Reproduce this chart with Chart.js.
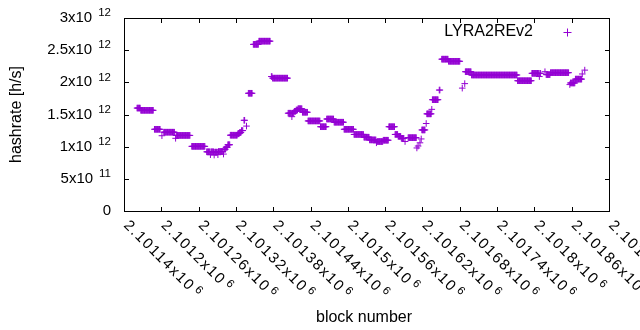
<!DOCTYPE html>
<html><head><meta charset="utf-8">
<script src="https://cdn.jsdelivr.net/npm/chart.js@4"></script>
<style>html,body{margin:0;padding:0;background:#fff}#c{display:block}</style>
</head><body>
<canvas id="c" width="640" height="330"></canvas>
<script>
// ---- data (hashrate in units of 10^12 h/s, constant over runs of consecutive blocks) ----
const seriesName = 'LYRA2REv2';
const runStart = [2101161,2101167,2101189,2101201,2101204,2101223,2101224,2101249,2101273,2101279,2101280,2101285,2101286,2101291,2101292,2101300,2101301,2101304,2101307,2101311,2101323,2101326,2101329,2101333,2101337,2101340,2101348,2101357,2101377,2101379,2101404,2101410,2101411,2101414,2101417,2101420,2101427,2101436,2101456,2101466,2101478,2101494,2101510,2101526,2101535,2101546,2101547,2101557,2101566,2101576,2101581,2101586,2101592,2101597,2101611,2101613,2101616,2101618,2101619,2101626,2101627,2101635,2101636,2101647,2101651,2101662,2101684,2101688,2101689,2101699,2101773,2101796,2101808,2101809,2101817,2101819,2101826,2101857,2101858,2101866,2101877,2101881];
const runEnd   = [2101166,2101187,2101198,2101201,2101221,2101223,2101246,2101270,2101278,2101279,2101284,2101285,2101290,2101291,2101299,2101300,2101303,2101306,2101310,2101322,2101325,2101328,2101331,2101334,2101337,2101346,2101356,2101375,2101378,2101403,2101409,2101410,2101413,2101416,2101419,2101426,2101435,2101455,2101465,2101477,2101493,2101509,2101525,2101534,2101545,2101546,2101556,2101565,2101575,2101580,2101585,2101590,2101592,2101610,2101611,2101613,2101616,2101618,2101624,2101626,2101634,2101635,2101645,2101648,2101661,2101680,2101684,2101688,2101698,2101772,2101795,2101807,2101808,2101810,2101817,2101825,2101855,2101857,2101865,2101876,2101877,2101881];
const runHashrate = [1.60,1.565,1.27,1.17,1.225,1.13,1.175,1.005,0.92,0.875,0.92,0.87,0.915,0.875,0.925,0.885,0.96,0.99,1.03,1.178,1.20,1.22,1.25,1.41,1.32,1.83,2.59,2.64,2.09,2.065,1.52,1.466,1.52,1.55,1.57,1.59,1.535,1.40,1.31,1.43,1.38,1.27,1.19,1.147,1.105,1.06,1.08,1.10,1.31,1.19,1.16,1.13,1.08,1.14,0.98,1.01,1.06,1.12,1.26,1.36,1.51,1.58,1.73,1.88,2.36,2.327,1.91,1.98,2.165,2.114,2.025,2.14,2.09,2.14,2.165,2.12,2.15,1.965,1.99,2.05,2.13,2.19];

// ---- axes / tick labels ----
const xTickValues = [2101140,2101200,2101260,2101320,2101380,2101440,2101500,2101560,2101620,2101680,2101740,2101800,2101860,2101920];
const xTickMantissa = ['2.10114','2.1012','2.10126','2.10132','2.10138','2.10144','2.1015','2.10156','2.10162','2.10168','2.10174','2.1018','2.10186','2.10192'];
const xTickExponent = '6';
const yTickValues = [0,5e11,1e12,1.5e12,2e12,2.5e12,3e12];
const yTickMantissa = ['0','5','1','1.5','2','2.5','3'];
const yTickExponent = ['','11','12','12','12','12','12'];
const xTitle = 'block number';
const yTitle = 'hashrate [h/s]';

const points = [];
for (let i = 0; i < runStart.length; i++) {
  for (let b = runStart[i]; b <= runEnd[i]; b++) points.push({x: b, y: runHashrate[i] * 1e12});
}

const FONT = '"Liberation Sans", Arial, sans-serif';
const PURPLE = '#9400d3';
const BASE = 15, SUP = 11.5, TITLE = 16;

function supText(ctx, base, sup, x, y, align, gap, raise, spacing) {
  ctx.letterSpacing = spacing || '0px';
  ctx.font = BASE + 'px ' + FONT;
  const wb = ctx.measureText(base).width;
  let ws = 0, g = 0;
  if (sup) { ctx.font = SUP + 'px ' + FONT; ws = ctx.measureText(sup).width; g = gap; }
  const total = wb + g + ws;
  let x0 = align === 'right' ? x - total : x;
  ctx.textAlign = 'left'; ctx.textBaseline = 'middle';
  ctx.font = BASE + 'px ' + FONT;
  ctx.fillText(base, x0, y);
  if (sup) { ctx.font = SUP + 'px ' + FONT; ctx.fillText(sup, x0 + wb + g, y - raise); }
  ctx.letterSpacing = '0px';
}

const gnuplotFrame = {
  id: 'gnuplotFrame',
  afterDraw(chart) {
    const ctx = chart.ctx, xs = chart.scales.x, ys = chart.scales.y, a = chart.chartArea;
    const L = Math.round(a.left), R = Math.round(a.right), T = Math.round(a.top), B = Math.round(a.bottom);
    ctx.save();
    ctx.strokeStyle = '#000'; ctx.lineWidth = 1;
    ctx.strokeRect(L + 0.5, T + 0.5, R - L, B - T);
    ctx.beginPath();
    yTickValues.forEach(v => {
      const py = Math.round(ys.getPixelForValue(v)) + 0.5;
      ctx.moveTo(L, py); ctx.lineTo(L + 5, py);
      ctx.moveTo(R + 1, py); ctx.lineTo(R - 4, py);
    });
    xTickValues.forEach(v => {
      const px = Math.round(xs.getPixelForValue(v)) + 0.5;
      ctx.moveTo(px, B + 1); ctx.lineTo(px, B - 4);
      ctx.moveTo(px, T); ctx.lineTo(px, T + 5);
    });
    ctx.stroke();
    ctx.fillStyle = '#000';
    // y tick labels
    yTickValues.forEach((v, i) => {
      const py = ys.getPixelForValue(v);
      supText(ctx, yTickMantissa[i] + (yTickExponent[i] ? 'x10' : ''), yTickExponent[i], 111, py, 'right', 6, 5);
    });
    // x tick labels rotated -45 (clockwise)
    xTickValues.forEach((v, i) => {
      const px = xs.getPixelForValue(v);
      ctx.save();
      ctx.translate(px + 2, B + 12);
      ctx.rotate(Math.PI / 4);
      supText(ctx, xTickMantissa[i] + 'x10', xTickExponent, 0, 0, 'left', 2.5, 4, '1.6px');
      ctx.restore();
    });
    // axis titles
    ctx.font = TITLE + 'px ' + FONT;
    ctx.textAlign = 'center'; ctx.textBaseline = 'alphabetic';
    ctx.fillText(xTitle, 364, 321.5);
    ctx.save();
    ctx.translate(16.5, (T + B) / 2);
    ctx.rotate(-Math.PI / 2);
    ctx.textBaseline = 'middle';
    ctx.fillText(yTitle, 0, 0);
    ctx.restore();
    // key
    ctx.textAlign = 'right'; ctx.textBaseline = 'middle';
    ctx.fillText(seriesName, 533, 31.5);
    ctx.strokeStyle = PURPLE;
    ctx.beginPath();
    ctx.moveTo(563.5, 32.5); ctx.lineTo(571.5, 32.5);
    ctx.moveTo(567.5, 28.5); ctx.lineTo(567.5, 36.5);
    ctx.stroke();
    ctx.restore();
  }
};

new Chart(document.getElementById('c'), {
  type: 'scatter',
  data: { datasets: [{
    label: seriesName, data: points,
    pointStyle: 'cross', pointRadius: 3.3, pointHoverRadius: 3.3,
    pointBorderWidth: 1, borderColor: PURPLE, backgroundColor: PURPLE, showLine: false
  }]},
  options: {
    responsive: false, animation: false, devicePixelRatio: 1, events: [],
    layout: { padding: { left: 0, top: 18, right: 31, bottom: 0 } },
    plugins: { legend: { display: false }, tooltip: { enabled: false } },
    scales: {
      x: { type: 'linear', min: 2101140, max: 2101920,
           afterBuildTicks: s => { s.ticks = xTickValues.map(v => ({value: v})); },
           afterFit: s => { s.height = 119; },
           ticks: { display: false }, grid: { display: false }, border: { display: false } },
      y: { type: 'linear', min: 0, max: 3e12,
           afterBuildTicks: s => { s.ticks = yTickValues.map(v => ({value: v})); },
           afterFit: s => { s.width = 124; },
           ticks: { display: false }, grid: { display: false }, border: { display: false } }
    }
  },
  plugins: [gnuplotFrame]
});
</script>
</body></html>
